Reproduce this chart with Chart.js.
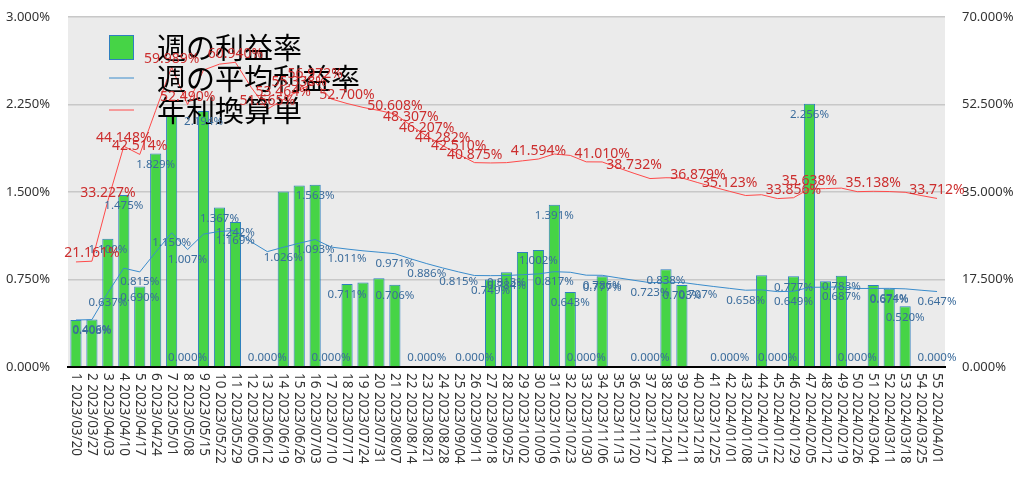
<!DOCTYPE html>
<html>
<head>
<meta charset="utf-8">
<title>週の利益率</title>
<script src="https://cdn.jsdelivr.net/npm/chart.js"></script>
<style>
  body { margin: 0; background: #fff; }
  #wrap { width: 1024px; height: 477px; }
</style>
</head>
<body>
<div id="wrap"><canvas id="chart" width="1024" height="477"></canvas></div>
<script>
// week labels (index + monday date)
const weeks = [
  '2023/03/20', '2023/03/27', '2023/04/03', '2023/04/10', '2023/04/17', '2023/04/24', '2023/05/01', '2023/05/08',
  '2023/05/15', '2023/05/22', '2023/05/29', '2023/06/05', '2023/06/12', '2023/06/19', '2023/06/26', '2023/07/03',
  '2023/07/10', '2023/07/17', '2023/07/24', '2023/07/31', '2023/08/07', '2023/08/14', '2023/08/21', '2023/08/28',
  '2023/09/04', '2023/09/11', '2023/09/18', '2023/09/25', '2023/10/02', '2023/10/09', '2023/10/16', '2023/10/23',
  '2023/10/30', '2023/11/06', '2023/11/13', '2023/11/20', '2023/11/27', '2023/12/04', '2023/12/11', '2023/12/18',
  '2023/12/25', '2024/01/01', '2024/01/08', '2024/01/15', '2024/01/22', '2024/01/29', '2024/02/05', '2024/02/12',
  '2024/02/19', '2024/02/26', '2024/03/04', '2024/03/11', '2024/03/18', '2024/03/25', '2024/04/01'
];
const categories = weeks.map((d, i) => (i + 1) + ' ' + d);

// 週の利益率 (%)
const weeklyRate = [
  0.403, 0.408, 1.100, 1.475, 0.690, 1.829, 2.151, 0, 2.194, 1.367,
  1.242, 0, 0, 1.505, 1.555, 1.563, 0, 0.711, 0.725, 0.761,
  0.706, 0, 0, 0, 0, 0, 0.749, 0.813, 0.985, 1.002,
  1.391, 0.643, 0, 0.777, 0, 0, 0, 0.838, 0.703, 0,
  0, 0, 0, 0.786, 0, 0.777, 2.256, 0.735, 0.783, 0,
  0.703, 0.671, 0.520, 0, 0
];

// 週の平均利益率 (%)
const avgRate = [
  0.403, 0.406, 0.637, 0.847, 0.815, 0.984, 1.150, 1.007, 1.139, 1.162,
  1.169, 1.072, 0.989, 1.026, 1.061, 1.093, 1.028, 1.011, 0.996, 0.984,
  0.971, 0.927, 0.886, 0.849, 0.815, 0.784, 0.783, 0.784, 0.791, 0.798,
  0.817, 0.812, 0.787, 0.786, 0.764, 0.743, 0.723, 0.726, 0.725, 0.707,
  0.690, 0.674, 0.658, 0.661, 0.646, 0.649, 0.683, 0.684, 0.687, 0.673,
  0.673, 0.674, 0.670, 0.658, 0.647
];

// 年利換算単 (%), right axis
const annualRate = [
  21.014, 21.161, 33.227, 44.148, 42.514, 51.319, 59.989, 52.490, 59.385, 60.574,
  60.940, 55.876, 51.565, 53.464, 55.338, 56.972, 53.624, 52.700, 51.919, 51.309,
  50.608, 48.307, 46.207, 44.282, 42.510, 40.875, 40.812, 40.870, 41.234, 41.594,
  42.596, 42.314, 41.031, 41.010, 39.843, 38.732, 37.689, 37.850, 37.819, 36.879,
  35.973, 35.123, 34.300, 34.451, 33.684, 33.856, 35.638, 35.676, 35.781, 35.066,
  35.138, 35.092, 34.941, 34.294, 33.712
];

// which weeks (1-based) carry a value label in the original
const weeklyLabelAt = [2, 3, 4, 5, 6, 8, 9, 10, 11, 13, 16, 17, 18, 21, 23, 26, 27, 28, 30, 31, 32, 33, 34, 37, 38, 39, 42, 45, 46, 47, 49, 50, 52, 53, 55];
const avgLabelAt = [2, 3, 5, 7, 8, 11, 14, 16, 18, 21, 23, 25, 28, 31, 34, 37, 40, 43, 46, 49, 52, 55];
const annualLabelAt = [2, 3, 4, 5, 7, 8, 11, 13, 14, 15, 16, 18, 21, 22, 23, 24, 25, 26, 30, 34, 36, 40, 42, 46, 47, 51, 55];

const yTicks = [0, 0.75, 1.5, 2.25, 3];
const y2Ticks = [0, 17.5, 35, 52.5, 70];

const FONT = "'Noto Sans', 'Noto Sans CJK JP', sans-serif";
const JP_FONT = "'Noto Sans CJK JP', sans-serif";

const plotBg = {
  id: 'plotBg',
  beforeDraw(chart) {
    const { ctx, chartArea: a } = chart;
    ctx.save();
    ctx.fillStyle = '#ebebeb';
    ctx.fillRect(a.left, a.top, a.right - a.left, a.bottom - a.top);
    ctx.restore();
  }
};

// rotated category labels (reading top to bottom)
const xLabels = {
  id: 'xLabels',
  afterDraw(chart) {
    const { ctx } = chart;
    const x = chart.scales.x;
    ctx.save();
    ctx.font = '13.5px ' + FONT;
    ctx.fillStyle = '#333';
    ctx.textAlign = 'left';
    ctx.textBaseline = 'middle';
    categories.forEach((c, i) => {
      ctx.save();
      ctx.translate(x.getPixelForTick(i), x.top + 6);
      ctx.rotate(Math.PI / 2);
      ctx.fillText(c, 0, 0);
      ctx.restore();
    });
    ctx.restore();
  }
};

// legend drawn inside the plot, plus value labels
const overlay = {
  id: 'overlay',
  afterDatasetsDraw(chart) {
    const { ctx, chartArea: a } = chart;
    ctx.save();
    // legend
    const lx = a.left + 41;
    const rows = [a.top + 30, a.top + 61, a.top + 93];
    ctx.fillStyle = '#46d446';
    ctx.strokeStyle = '#2f7fbf';
    ctx.lineWidth = 1;
    ctx.fillRect(lx, rows[0] - 12, 25, 25);
    ctx.strokeRect(lx + 0.5, rows[0] - 11.5, 24, 24);
    ctx.strokeStyle = '#3a8ccc';
    ctx.beginPath(); ctx.moveTo(lx, rows[1]); ctx.lineTo(lx + 25, rows[1]); ctx.stroke();
    ctx.strokeStyle = '#ff4a4a';
    ctx.beginPath(); ctx.moveTo(lx, rows[2]); ctx.lineTo(lx + 25, rows[2]); ctx.stroke();
    ctx.fillStyle = '#000';
    ctx.font = '29px ' + JP_FONT;
    ctx.textAlign = 'left';
    ctx.textBaseline = 'middle';
    const names = chart.data.datasets.map(d => d.label);
    names.forEach((n, i) => ctx.fillText(n, lx + 48, rows[i] + 1));

    // value labels
    ctx.textAlign = 'center';
    ctx.textBaseline = 'middle';
    const bars = chart.getDatasetMeta(0).data;
    ctx.font = '11.5px ' + FONT;
    ctx.fillStyle = '#3b6c9c';
    weeklyLabelAt.forEach(w => {
      const el = bars[w - 1];
      const y = Math.min(el.y + 11, el.base - 9);
      ctx.fillText(weeklyRate[w - 1].toFixed(3) + '%', el.x, y);
    });
    const avgPts = chart.getDatasetMeta(1).data;
    avgLabelAt.forEach(w => {
      const el = avgPts[w - 1];
      ctx.fillText(avgRate[w - 1].toFixed(3) + '%', el.x, el.y + 10);
    });
    const annPts = chart.getDatasetMeta(2).data;
    ctx.font = '14px ' + FONT;
    ctx.fillStyle = '#cc2e2e';
    annualLabelAt.forEach(w => {
      const el = annPts[w - 1];
      ctx.fillText(annualRate[w - 1].toFixed(3) + '%', el.x, el.y - 8);
    });
    ctx.restore();
  }
};

function fixY(width) {
  return s => {
    s.width = width;
    s.paddingTop = 0;
    s.paddingBottom = 0;
  };
}

const chart = new Chart(document.getElementById('chart'), {
  data: {
    labels: categories,
    datasets: [
      {
        type: 'bar',
        label: '週の利益率',
        data: weeklyRate,
        yAxisID: 'y',
        backgroundColor: '#46d446',
        borderColor: '#2f7fbf',
        borderWidth: 1,
        barPercentage: 0.7,
        categoryPercentage: 1.0,
        order: 3
      },
      {
        type: 'line',
        label: '週の平均利益率',
        data: avgRate,
        yAxisID: 'y',
        borderColor: '#3a8ccc',
        borderWidth: 1,
        pointRadius: 0,
        tension: 0,
        order: 2
      },
      {
        type: 'line',
        label: '年利換算単',
        data: annualRate,
        yAxisID: 'y2',
        borderColor: '#ff4a4a',
        borderWidth: 1,
        pointRadius: 0,
        tension: 0,
        order: 1
      }
    ]
  },
  options: {
    responsive: false,
    animation: false,
    layout: { padding: { top: 17, left: 0, right: 0, bottom: 0 } },
    plugins: {
      legend: { display: false },
      tooltip: { enabled: false }
    },
    scales: {
      x: {
        offset: true,
        grid: { display: false, drawTicks: false },
        border: { display: true, color: '#000', width: 2 },
        ticks: { display: false },
        afterFit(s) { s.height = 110; }
      },
      y: {
        position: 'left',
        min: 0,
        max: 3,
        afterBuildTicks(s) { s.ticks = yTicks.map(v => ({ value: v })); },
        ticks: {
          padding: 18,
          color: '#333',
          font: { family: FONT, size: 13 },
          callback: v => v.toFixed(3) + '%'
        },
        grid: { color: '#c8c8c8', lineWidth: 1.5, drawTicks: false },
        border: { display: false },
        afterFit: fixY(68)
      },
      y2: {
        position: 'right',
        min: 0,
        max: 70,
        afterBuildTicks(s) { s.ticks = y2Ticks.map(v => ({ value: v })); },
        ticks: {
          padding: 17,
          color: '#333',
          font: { family: FONT, size: 13 },
          callback: v => v.toFixed(3) + '%'
        },
        grid: { display: false, drawTicks: false },
        border: { display: false },
        afterFit: fixY(79)
      }
    }
  },
  plugins: [plotBg, overlay, xLabels]
});
</script>
</body>
</html>
